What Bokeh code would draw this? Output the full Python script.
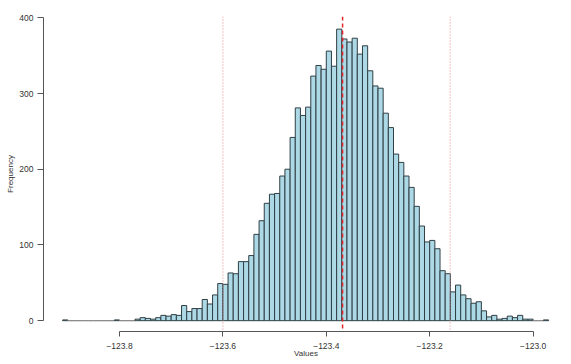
import numpy as np
from bokeh.plotting import figure
from bokeh.models import Span, FixedTicker, Range1d
from bokeh.embed import file_html
from bokeh.resources import INLINE

# ---- data ----
bin_start = -123.91
bin_width = 0.01
counts = [1, 0, 0, 0, 0, 0, 0, 0, 0, 0,
          1, 0, 0, 0, 2, 4, 3, 2, 4, 7,
          6, 8, 7, 20, 12, 16, 16, 28, 22, 34,
          49, 48, 63, 62, 78, 78, 86, 114, 132, 155,
          167, 168, 191, 200, 242, 281, 271, 282, 323, 337,
          332, 356, 336, 385, 372, 368, 373, 352, 363, 330,
          310, 307, 274, 255, 220, 209, 191, 176, 151, 125,
          104, 106, 95, 66, 62, 38, 47, 34, 29, 23,
          25, 13, 5, 7, 2, 3, 6, 4, 7, 2,
          2, 0, 0, 1]
mean_value = -123.3685
quantile_values = [-123.5999, -123.1605]

x_ticks = [-123.8, -123.6, -123.4, -123.2, -123.0]
x_tick_labels = ["\u2212123.8", "\u2212123.6", "\u2212123.4", "\u2212123.2", "\u2212123.0"]
y_ticks = [0, 100, 200, 300, 400]
y_tick_labels = ["0", "100", "200", "300", "400"]

# ---- build ----
counts = np.array(counts, dtype=float)
edges = bin_start + bin_width * np.arange(len(counts) + 1)
outline = np.where(counts > 0, "#2f3f44", "#8a8a8a")

FONT = "Liberation Sans"

p = figure(width=571, height=364, output_backend="svg", toolbar_location=None,
           x_range=Range1d(-123.947, -122.9315), y_range=Range1d(-14.3, 401.7),
           min_border_left=43, min_border_right=3, min_border_top=16, min_border_bottom=33)
p.outline_line_color = None
p.grid.visible = False
p.background_fill_color = "white"
p.border_fill_color = "white"

p.quad(left=edges[:-1], right=edges[1:], bottom=0, top=counts,
       fill_color="#ADD8E6", line_color=outline, line_width=1)

p.add_layout(Span(location=mean_value, dimension="height", line_color="#e3262b",
                  line_dash="4 3", line_width=1.5))
for q in quantile_values:
    p.add_layout(Span(location=q, dimension="height", line_color="#e8868a",
                      line_dash="1 2", line_width=1))

# axes styling (R-like)
xa = p.xaxis[0]
xa.ticker = FixedTicker(ticks=x_ticks)
xa.major_label_overrides = {t: l for t, l in zip(x_ticks, x_tick_labels)}
xa.bounds = (x_ticks[0], x_ticks[-1])
xa.axis_label = "Values"

ya = p.yaxis[0]
ya.ticker = FixedTicker(ticks=y_ticks)
ya.major_label_overrides = {t: l for t, l in zip(y_ticks, y_tick_labels)}
ya.bounds = (y_ticks[0], y_ticks[-1])
ya.axis_label = "Frequency"

for ax in (xa, ya):
    ax.axis_line_color = "#555555"
    ax.major_tick_line_color = "#555555"
    ax.minor_tick_line_color = None
    ax.major_tick_in = 0
    ax.major_label_text_font = FONT
    ax.major_label_text_font_size = "8.5px"
    ax.major_label_text_color = "#333333"
    ax.axis_label_text_font = FONT
    ax.axis_label_text_font_size = "8px"
    ax.axis_label_text_font_style = "normal"
    ax.axis_label_text_color = "#333333"

xa.major_tick_out = 5
xa.major_label_standoff = 6
xa.axis_label_standoff = -3
ya.major_tick_out = 6
ya.major_label_standoff = 4
ya.axis_label_standoff = 1
ya.major_label_orientation = "horizontal"

open("out.html", "w").write(file_html(p, INLINE))
